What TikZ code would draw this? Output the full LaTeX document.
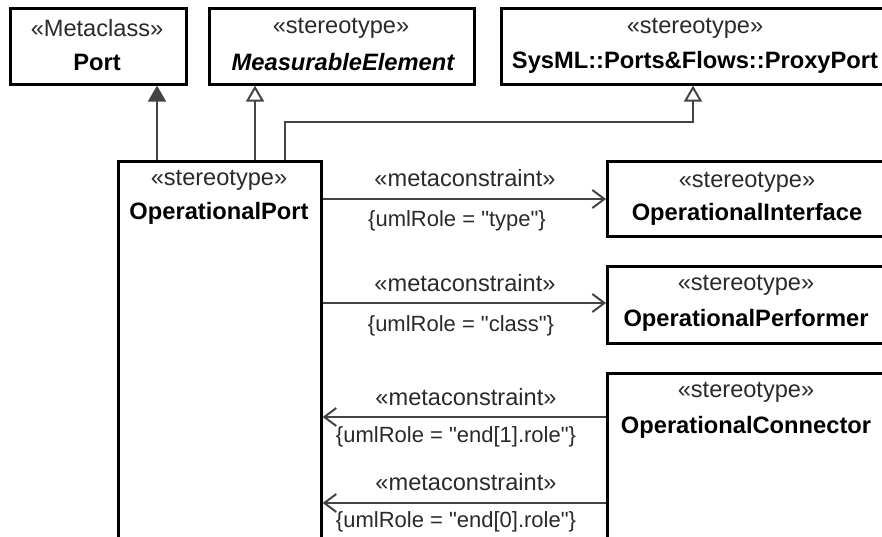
\documentclass[tikz,border=0pt]{standalone}
\usepackage{fontspec}
\setmainfont{Liberation Sans}[Ligatures=TeXOff]
\usetikzlibrary{arrows.meta}
\definecolor{conn}{HTML}{444444}
\definecolor{txt}{HTML}{2A2A2A}
\tikzset{
  umlbox/.style={draw=black, line width=2.6pt, fill=white, inner sep=0pt, anchor=north west},
  sterlbl/.style={inner sep=0pt, text=txt, font=\fontsize{23.6}{28}\selectfont},
  namelbl/.style={inner sep=0pt, text=black, font=\fontsize{23.7}{28}\selectfont\bfseries},
  itnamelbl/.style={inner sep=0pt, text=black, font=\fontsize{23.7}{28}\selectfont\bfseries\itshape},
  conlbl/.style={inner sep=0pt, text=txt, font=\fontsize{22}{26}\selectfont},
  genfill/.style={draw=conn, line width=2pt, -{Triangle[length=16pt,width=18pt,fill=conn]}},
  genopen/.style={draw=conn, line width=2pt, -{Triangle[open,length=16pt,width=18pt,fill=white]}},
  metaarrow/.style={draw=conn, line width=2pt, -{Straight Barb[length=12pt,width=18pt,line width=2pt]}}
}
\begin{document}
\begin{tikzpicture}[x=1pt,y=-1pt]
\useasboundingbox (0,0) rectangle (882,537);
\clip (0,0) rectangle (882,537);
\fill[white] (0,0) rectangle (882,537);
% boxes
\node[umlbox, minimum width=176pt, minimum height=76pt] (port) at (9,7) {};
\node[umlbox, minimum width=265pt, minimum height=76pt] (meas) at (208,7) {};
\node[umlbox, minimum width=390pt, minimum height=76pt] (proxy) at (500,7) {};
\node[umlbox, minimum width=203pt, minimum height=420pt] (opport) at (117,160) {};
\node[umlbox, minimum width=282pt, minimum height=75pt] (iface) at (606,160) {};
\node[umlbox, minimum width=282pt, minimum height=77pt] (perf) at (606,265) {};
\node[umlbox, minimum width=282pt, minimum height=200pt] (conn) at (606,372) {};
% box texts
\node[sterlbl] (portS) at (97,28) {«Metaclass»};
\node[namelbl] (portN) at (97,62) {Port};
\node[sterlbl] (measS) at (341,28) {«stereotype»};
\node[itnamelbl] (measN) at (343,62) {MeasurableElement};
\node[sterlbl] (proxyS) at (695,28) {«stereotype»};
\node[namelbl] (proxyN) at (695,62) {SysML::Ports\&Flows::ProxyPort};
\node[sterlbl] (opS) at (219,180) {«stereotype»};
\node[namelbl] (opN) at (219,213) {OperationalPort};
\node[sterlbl] (ifS) at (747,182) {«stereotype»};
\node[namelbl] (ifN) at (747,214) {OperationalInterface};
\node[sterlbl] (pfS) at (746,285) {«stereotype»};
\node[namelbl] (pfN) at (746,320) {OperationalPerformer};
\node[sterlbl] (cnS) at (746,392) {«stereotype»};
\node[namelbl] (cnN) at (746,427) {OperationalConnector};
% generalizations
\coordinate (pa) at (157,0);
\coordinate (ma) at (255,0);
\coordinate (px) at (285,122);
\coordinate (ax) at (693,122);
\draw[genfill] (opport.north -| pa) -- (port.south -| pa);
\draw[genopen] (opport.north -| ma) -- (meas.south -| ma);
\draw[genopen] (opport.north -| px) -- (px) -- (ax) -- (proxy.south -| ax);
% metaconstraints
\coordinate (y1) at (0,199);
\coordinate (y2) at (0,303);
\coordinate (y3) at (0,417);
\coordinate (y4) at (0,503);
\draw[metaarrow] (opport.east |- y1) -- (iface.west |- y1);
\draw[metaarrow] (opport.east |- y2) -- (perf.west |- y2);
\draw[metaarrow] (conn.west |- y3) -- (opport.east |- y3);
\draw[metaarrow] (conn.west |- y4) -- (opport.east |- y4);
% connector labels
\node[sterlbl] (m1) at (465,178) {«metaconstraint»};
\node[conlbl] (r1) at (457,221) {\{umlRole = "type"\}};
\node[sterlbl] (m2) at (465,283) {«metaconstraint»};
\node[conlbl] (r2) at (461,326) {\{umlRole = "class"\}};
\node[sterlbl] (m3) at (466,397) {«metaconstraint»};
\node[conlbl] (r3) at (456,437) {\{umlRole = "end[1].role"\}};
\node[sterlbl] (m4) at (466,482) {«metaconstraint»};
\node[conlbl] (r4) at (456,522) {\{umlRole = "end[0].role"\}};
\end{tikzpicture}
\end{document}
